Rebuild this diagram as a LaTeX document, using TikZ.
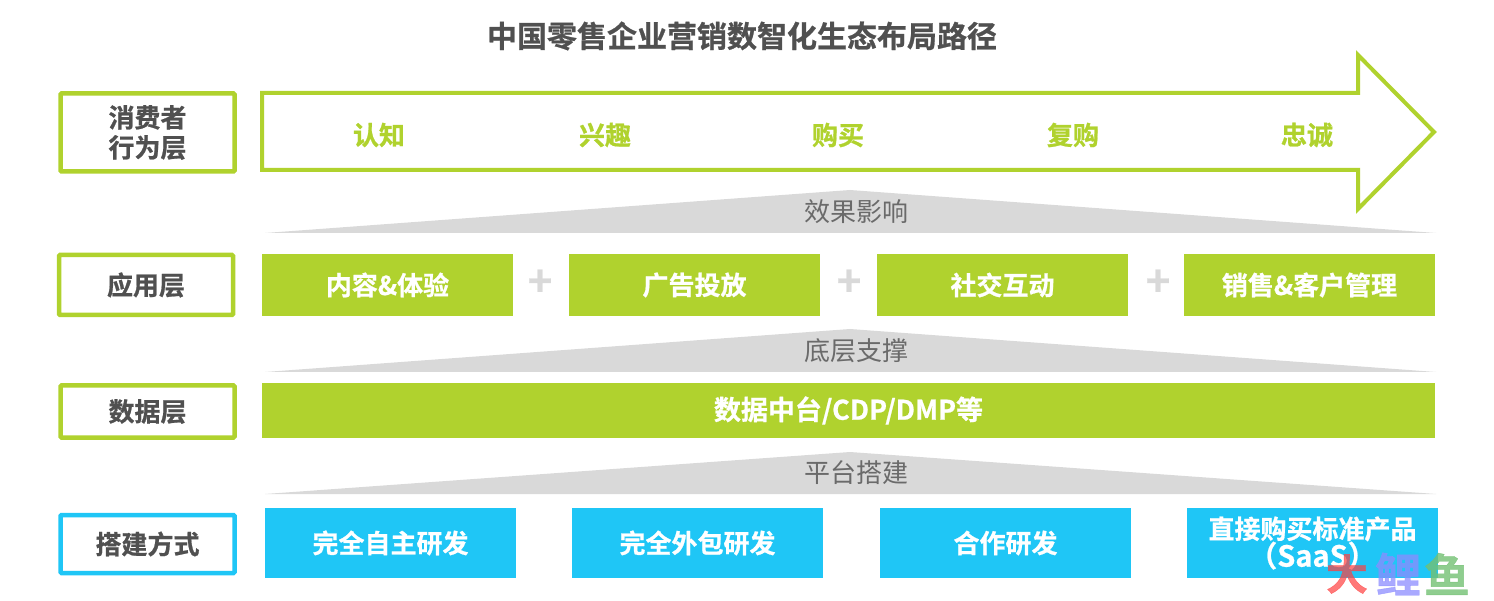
\documentclass[tikz,border=0pt]{standalone}
\usepackage{fontspec}
\setmainfont{Noto Sans CJK SC}[BoldFont={* Bold},BoldFeatures={FakeBold=0.8}]
\definecolor{lime}{HTML}{B0D22E}
\definecolor{sky}{HTML}{1FC6F6}
\definecolor{ink}{HTML}{505050}
\definecolor{tri}{HTML}{D9D9D9}
\begin{document}
\begin{tikzpicture}[x=1pt,y=-1pt,
  txt/.style={inner sep=0pt,font=\fontsize{26}{31}\selectfont\bfseries,align=center},
  tag/.style={txt,draw=lime,line width=4.5pt,text=ink,fill=white,rounded corners=1pt},
  tagblue/.style={tag,draw=sky},
  limebox/.style={txt,fill=lime,text=white},
  skybox/.style={txt,fill=sky,text=white},
  stagelabel/.style={txt,text=lime},
  plus/.style={txt,text=tri,font=\fontsize{42}{42}\selectfont\bfseries},
  tritext/.style={inner sep=0pt,text=ink!85,font=\fontsize{26}{31}\selectfont},
  wedge/.style={fill=tri,draw=none}]
\useasboundingbox (0,0) rectangle (1494,601);
\node[inner sep=0pt,text=ink,font=\fontsize{30}{36}\selectfont\bfseries] (title) at (742,36) {中国零售企业营销数智化生态布局路径};
% left tags
\node[tag,minimum width=174pt,minimum height=78pt] (t1) at (147.5,132.5) {消费者\\[-1pt]行为层};
\node[tag,minimum width=174pt,minimum height=60pt] (t2) at (146,285) {应用层};
\node[tag,minimum width=174pt,minimum height=52pt] (t3) at (147.5,411.5) {数据层};
\node[tagblue,minimum width=174pt,minimum height=58pt] (t4) at (147.5,544) {搭建方式};
% big arrow
\draw[lime,line width=4pt,miter limit=10,fill=white]
  (262,93) -- (1358,93) -- (1358,55) -- (1434,132) -- (1358,209) -- (1358,170) -- (262,170) -- cycle;
\node[stagelabel] (s1) at (379,135) {认知};
\node[stagelabel] (s2) at (605,135) {兴趣};
\node[stagelabel] (s3) at (838,135) {购买};
\node[stagelabel] (s4) at (1073,135) {复购};
\node[stagelabel] (s5) at (1307,135) {忠诚};
% wedges
\fill[wedge] (265,233) -- (850,190) -- (1436,233) -- cycle;
\node[tritext] (w1) at (856,212) {效果影响};
\fill[wedge] (265,372) -- (850,329) -- (1436,372) -- cycle;
\node[tritext] (w2) at (856,351) {底层支撑};
\fill[wedge] (265,494) -- (850,452) -- (1436,494) -- cycle;
\node[tritext] (w3) at (856,473) {平台搭建};
% application row
\node[limebox,minimum width=251pt,minimum height=62pt] (a1) at (387.5,285) {内容\&体验};
\node[limebox,minimum width=251pt,minimum height=62pt] (a2) at (694.5,285) {广告投放};
\node[limebox,minimum width=251pt,minimum height=62pt] (a3) at (1002.5,285) {社交互动};
\node[limebox,minimum width=251pt,minimum height=62pt] (a4) at (1309.5,285) {销售\&客户管理};
\node[plus] (p1) at (540,283) {+};
\node[plus] (p2) at (849,283) {+};
\node[plus] (p3) at (1158,283) {+};
% data row
\node[limebox,minimum width=1173pt,minimum height=55pt,font=\fontsize{27}{32}\selectfont\bfseries] (d) at (848.5,410.5) {数据中台/CDP/DMP等};
% build row
\node[skybox,minimum width=251pt,minimum height=70pt] (b1) at (390.5,543) {完全自主研发};
\node[skybox,minimum width=251pt,minimum height=70pt] (b2) at (697.5,543) {完全外包研发};
\node[skybox,minimum width=251pt,minimum height=70pt] (b3) at (1005.5,543) {合作研发};
\node[skybox,minimum width=251pt,minimum height=70pt] (b4) at (1312.5,543) {直接购买标准产品\\[-3pt]{\fontsize{29}{31}\selectfont（SaaS）}};
% watermark
\node[inner sep=0pt,text=red!75!white,opacity=.7,font=\fontsize{42}{42}\selectfont\bfseries] (m1) at (1347,574) {大};
\node[inner sep=0pt,text=blue!45!white,opacity=.75,font=\fontsize{46}{46}\selectfont\bfseries] (m2) at (1398,574) {鲤};
\node[inner sep=0pt,text=green!55!black!55!white,opacity=.8,font=\fontsize{46}{46}\selectfont\bfseries] (m3) at (1447,574) {鱼};
\end{tikzpicture}
\end{document}
